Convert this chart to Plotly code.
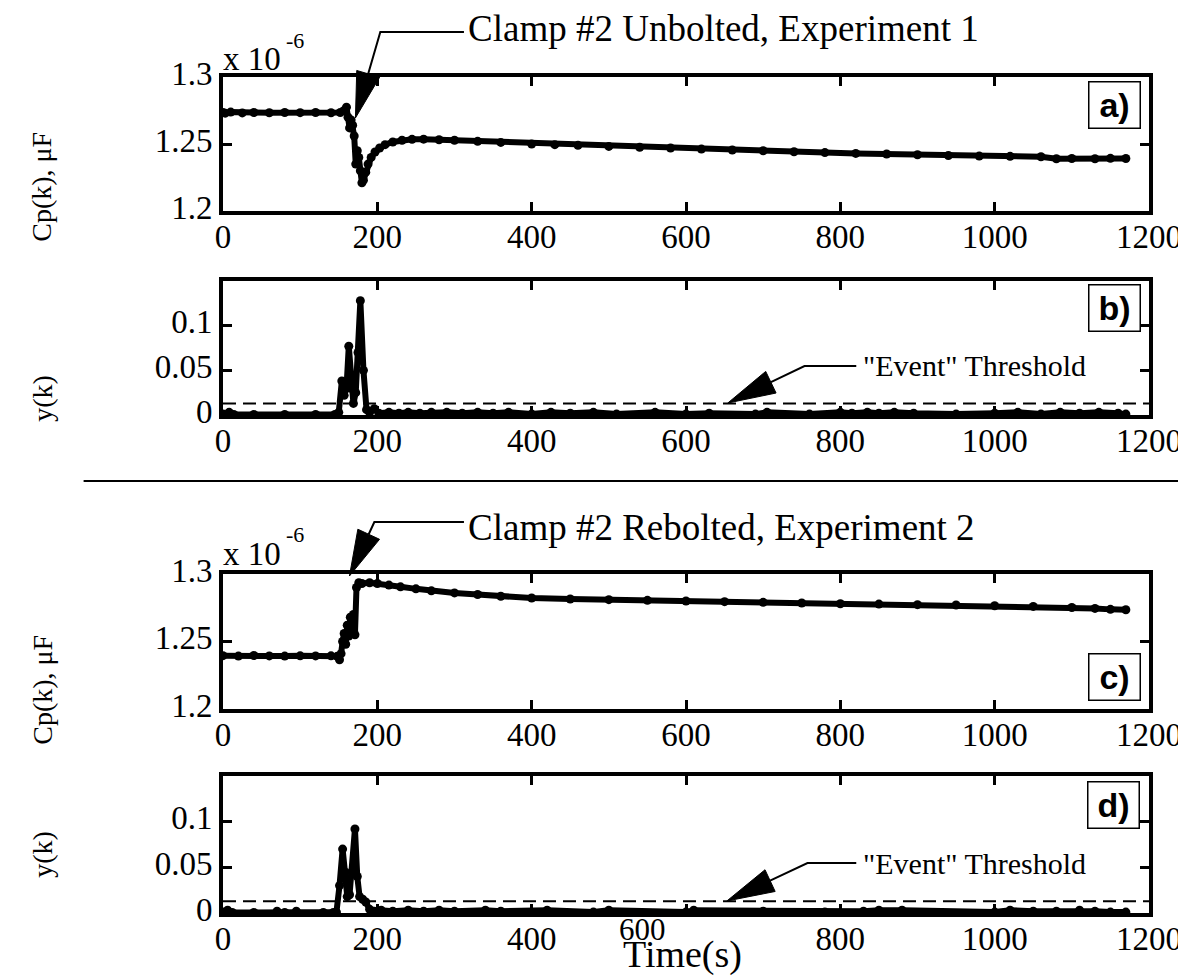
import math
import plotly.graph_objects as go

# ---------------- data ----------------
t_cp1 = [0, 3, 10, 25, 40, 60, 80, 100, 120, 140, 152, 157, 160, 162, 164, 166, 168, 170, 172, 174,
         176, 178, 180, 182, 185, 188, 192, 197, 203, 210, 220, 232, 245, 260, 280, 300, 330, 360, 400, 430,
         460, 500, 540, 580, 620, 660, 700, 740, 780, 820, 860, 900, 940, 980, 1020, 1060, 1080, 1100, 1130, 1150,
         1170]
cp1 = [1.2735, 1.2730, 1.2738, 1.2732, 1.2735, 1.2733, 1.2735, 1.2734, 1.2735, 1.2733,
       1.2735, 1.2750, 1.2775, 1.2700, 1.2620, 1.2680, 1.2640, 1.2560, 1.2350, 1.2450,
       1.2400, 1.2300, 1.2210, 1.2230, 1.2290, 1.2350, 1.2400, 1.2440, 1.2470, 1.2495,
       1.2515, 1.2528, 1.2535, 1.2536, 1.2532, 1.2528, 1.2520, 1.2512, 1.2500, 1.2495,
       1.2490, 1.2482, 1.2476, 1.2470, 1.2462, 1.2455, 1.2450, 1.2442, 1.2436, 1.2430,
       1.2425, 1.2420, 1.2414, 1.2410, 1.2408, 1.2405, 1.2390, 1.2392, 1.2390, 1.2393,
       1.2392]

t_y1 = [0, 8, 14, 40, 80, 120, 145, 150, 154, 157, 160, 163, 166, 169, 172, 175, 178, 182, 186, 190,
        196, 202, 215, 228, 240, 255, 270, 290, 310, 330, 350, 370, 400, 425, 450, 480, 510, 560, 600, 630,
        690, 705, 760, 800, 815, 835, 850, 870, 895, 950, 1000, 1030, 1060, 1085, 1110, 1135, 1160, 1170]
y1 = [0.001, 0.003, 0.0005, 0.0005, 0.0005, 0.0005, 0.0005, 0.003, 0.038, 0.022,
      0.03, 0.077, 0.03, 0.013, 0.025, 0.07, 0.128, 0.05, 0.006, 0.003,
      0.007, 0.002, 0.003, 0.002, 0.003, 0.002, 0.003, 0.003, 0.002, 0.003,
      0.002, 0.003, 0.001, 0.003, 0.002, 0.003, 0.001, 0.003, 0.001, 0.002,
      0.001, 0.003, 0.001, 0.003, 0.002, 0.003, 0.002, 0.003, 0.002, 0.001,
      0.002, 0.003, 0.001, 0.003, 0.002, 0.003, 0.002, 0.001]

t_cp2 = [0, 20, 40, 60, 80, 100, 120, 140, 148, 151, 153, 155, 157, 159, 161, 163, 165, 167, 169, 171,
         173, 176, 180, 190, 200, 215, 230, 250, 270, 300, 330, 360, 400, 450, 500, 550, 600, 650, 700, 750,
         800, 850, 900, 950, 1000, 1050, 1100, 1130, 1150, 1170]
cp2 = [1.2395, 1.2392, 1.2396, 1.2393, 1.2392, 1.2394, 1.2393, 1.2394, 1.2390, 1.2365,
       1.2410, 1.2500, 1.2560, 1.2480, 1.2620, 1.2540, 1.2680, 1.2600, 1.2700, 1.2550,
       1.2900, 1.2935, 1.2930, 1.2935, 1.2930, 1.2918, 1.2905, 1.2890, 1.2875, 1.2860,
       1.2848, 1.2835, 1.2822, 1.2815, 1.2810, 1.2805, 1.2800, 1.2795, 1.2790, 1.2785,
       1.2780, 1.2777, 1.2773, 1.2770, 1.2765, 1.2760, 1.2752, 1.2745, 1.2738, 1.2735]

t_y2 = [0, 6, 12, 40, 70, 80, 95, 130, 143, 147, 151, 155, 158, 161, 164, 167, 171, 174, 177, 181,
        185, 190, 196, 205, 220, 240, 260, 280, 300, 340, 360, 420, 480, 500, 600, 610, 700, 780, 830, 850,
        880, 1000, 1020, 1050, 1080, 1110, 1130, 1150, 1170]
y2 = [0.001, 0.003, 0.0005, 0.0005, 0.002, 0.0005, 0.002, 0.0005, 0.0005, 0.001,
      0.03, 0.07, 0.045, 0.018, 0.02, 0.045, 0.092, 0.04, 0.018, 0.015,
      0.012, 0.004, 0.002, 0.003, 0.002, 0.003, 0.002, 0.003, 0.002, 0.003,
      0.002, 0.003, 0.001, 0.003, 0.001, 0.003, 0.002, 0.001, 0.002, 0.003,
      0.003, 0.001, 0.003, 0.002, 0.002, 0.003, 0.002, 0.001, 0.001]

threshold = 0.013
x_range = [0, 1200]
x_ticks = [0, 200, 400, 600, 800, 1000, 1200]
x_ticks_d = [0, 200, 400, 800, 1000, 1200]      # 600 label of panel d is drawn displaced
cp_range = [1.2, 1.3]
cp_ticks = [1.2, 1.25, 1.3]
cp_ticktext = ["1.2", "1.25", "1.3"]
yk_range = [0, 0.15]
yk_ticks = [0, 0.05, 0.1]
yk_ticktext = ["0", "0.05", "0.1"]
titles = ["Clamp #2 Unbolted, Experiment 1", "Clamp #2 Rebolted, Experiment 2"]
panel_labels = ["a)", "b)", "c)", "d)"]
cp_title = "Cp(k), \u03bcF"
yk_title = "y(k)"
x_title = "Time(s)"
threshold_text = "\"Event\" Threshold"

# ---------------- layout geometry (pixels) ----------------
W, H = 1186, 979
L, R, T, B = 215, 1145, 69, 905


def px(x):
    return (x - L) / (R - L)


def py(y):
    return (B - y) / (B - T)


SERIF = "Liberation Serif, Times New Roman, serif"
SANS = "Liberation Sans, Arial, sans-serif"

panels = [
    dict(top=69, bottom=203),
    dict(top=273, bottom=407),
    dict(top=566, bottom=701),
    dict(top=768, bottom=905),
]

fig = go.Figure()

series = [(t_cp1, cp1), (t_y1, y1), (t_cp2, cp2), (t_y2, y2)]
for i, (tx, ty) in enumerate(series):
    sfx = "" if i == 0 else str(i + 1)
    fig.add_trace(go.Scatter(
        x=tx, y=ty, mode="lines+markers",
        line=dict(color="black", width=6),
        marker=dict(color="black", size=9),
        xaxis="x" + sfx, yaxis="y" + sfx, showlegend=False, hoverinfo="skip"))
    if i in (1, 3):
        fig.add_trace(go.Scatter(
            x=x_range, y=[threshold, threshold], mode="lines",
            line=dict(color="black", width=2, dash="13px,7px"),
            xaxis="x" + sfx, yaxis="y" + sfx, showlegend=False, hoverinfo="skip"))

axis_common = dict(
    showline=True, linewidth=4, linecolor="black", mirror="ticks",
    ticks="inside", ticklen=9, tickwidth=3, tickcolor="black",
    showgrid=False, zeroline=False,
    tickfont=dict(family=SERIF, size=33, color="black"),
)

layout = dict(
    width=W, height=H,
    margin=dict(l=L, r=W - R, t=T, b=H - B),
    plot_bgcolor="white", paper_bgcolor="white",
    showlegend=False,
)

for i, p in enumerate(panels):
    sfx = "" if i == 0 else str(i + 1)
    xa = dict(axis_common, domain=[0, 1], range=x_range, tickvals=x_ticks,
              anchor="y" + sfx, ticklabelstandoff=-7)
    if i == 3:
        xa["tickvals"] = x_ticks_d
        xa["minor"] = dict(tickvals=[600], ticks="inside", ticklen=9, tickwidth=3,
                           tickcolor="black", showgrid=False)
    if i in (0, 2):
        ya = dict(axis_common, range=cp_range, tickvals=cp_ticks, ticktext=cp_ticktext)
    else:
        ya = dict(axis_common, range=yk_range, tickvals=yk_ticks, ticktext=yk_ticktext)
    ya.update(domain=[py(p["bottom"]), py(p["top"])], anchor="x" + sfx, ticklabelshift=-4)
    layout["xaxis" + sfx] = xa
    layout["yaxis" + sfx] = ya

fig.update_layout(**layout)

annotations = []
shapes = []


def text(t, x, y, size, family=SERIF, xanchor="left", yanchor="middle", **kw):
    annotations.append(dict(text=t, x=px(x), y=py(y), xref="paper", yref="paper",
                            xanchor=xanchor, yanchor=yanchor, showarrow=False,
                            font=dict(family=family, size=size, color="black"), **kw))


# titles
for title, yc in zip(titles, [20, 519]):
    text(title, 459, yc, 37)

# multiplier text (x 10^-6) above both capacitance panels
for base_mid, sup_mid in [(51, 32), (546, 526)]:
    text("x 10", 213, base_mid, 33)
    text("-6", 276, sup_mid, 22)

# panel label boxes
for lab, (cx, cy) in zip(panel_labels, [(1110, 97), (1110, 300), (1110, 669), (1109, 797)]):
    text("<b>%s</b>" % lab, cx, cy, 34, family=SANS, xanchor="center",
         width=50, height=45, borderpad=0, bordercolor="black", borderwidth=1.5, bgcolor="white")

# threshold texts
for yc in (357, 855):
    text(threshold_text, 856, yc, 30)

# y-axis titles
for txt, yc in zip([cp_title, yk_title, cp_title, yk_title], [179, 390, 682, 846]):
    text(txt, 33, yc, 28, xanchor="center", textangle=-90)

# displaced 600 label (panel d) and x title
text("600", 636, 922, 31, xanchor="center")
text(x_title, 676, 946, 38, xanchor="center")


# leader lines and filled arrowheads (pixel geometry -> paper coords)
def arrow(start, bend, tip, head_len, half_w):
    dx, dy = tip[0] - bend[0], tip[1] - bend[1]
    n = math.hypot(dx, dy)
    ux, uy = dx / n, dy / n
    bx, by = tip[0] - head_len * ux, tip[1] - head_len * uy
    nx, ny = -uy, ux
    c1 = (bx + half_w * nx, by + half_w * ny)
    c2 = (bx - half_w * nx, by - half_w * ny)
    line_path = "M %f,%f L %f,%f L %f,%f" % (px(start[0]), py(start[1]), px(bend[0]), py(bend[1]),
                                             px(bx), py(by))
    head_path = "M %f,%f L %f,%f L %f,%f Z" % (px(tip[0]), py(tip[1]), px(c1[0]), py(c1[1]),
                                               px(c2[0]), py(c2[1]))
    shapes.append(dict(type="path", path=line_path, xref="paper", yref="paper",
                       line=dict(color="black", width=2)))
    shapes.append(dict(type="path", path=head_path, xref="paper", yref="paper",
                       line=dict(color="black", width=1), fillcolor="black"))


arrow((457, 24), (373, 24), (348, 110), 46, 12)
arrow((457, 514), (367, 514), (342, 568), 46, 12)
arrow((851, 358), (799, 358), (722, 395), 48, 12)
arrow((851, 855), (802, 855), (721, 893), 48, 12)

# separator line between the two experiments
shapes.append(dict(type="line", x0=px(75), x1=px(1186), y0=py(473), y1=py(473),
                   xref="paper", yref="paper", line=dict(color="black", width=2)))

fig.update_layout(annotations=annotations, shapes=shapes)

fig.write_html("out.html")
